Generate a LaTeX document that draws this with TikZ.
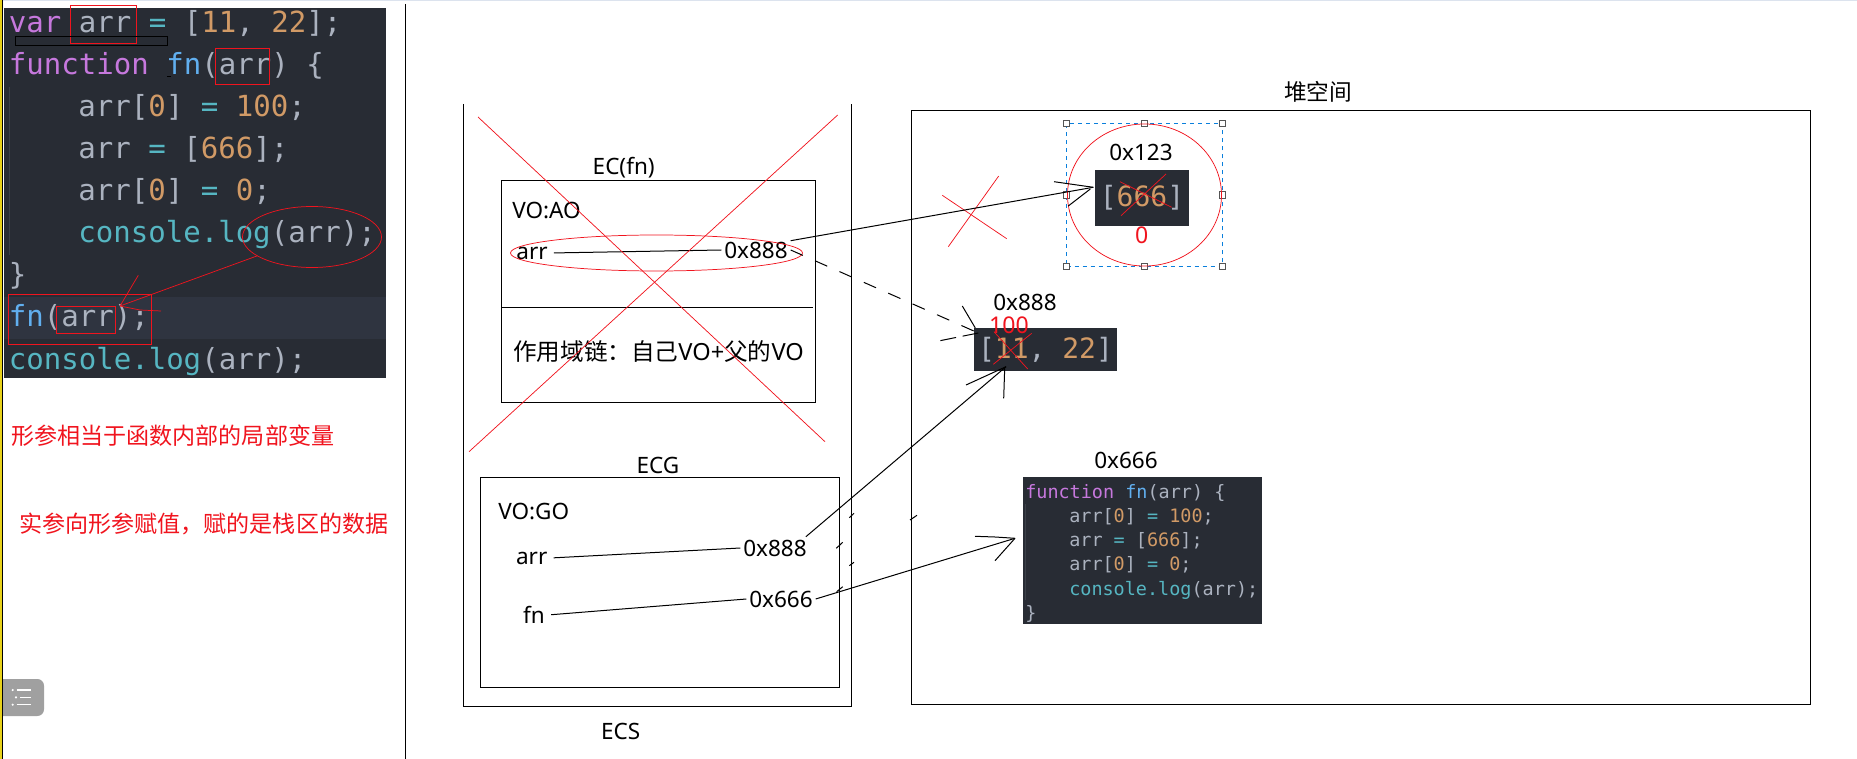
\documentclass[tikz,border=0pt]{standalone}
\usepackage{fontspec}
\usepackage{xcolor}
\setmainfont{Noto Sans}
\setmonofont{DejaVu Sans Mono}
\newfontfamily\cjk{Noto Sans CJK SC}
\usetikzlibrary{shapes.geometric}
\definecolor{CodeBg}{HTML}{282C34}
\definecolor{CodeLine}{HTML}{2F3440}
\definecolor{CodeGuide}{HTML}{3B4048}
\definecolor{CodeKw}{HTML}{C678DD}
\definecolor{CodeFn}{HTML}{61AFEF}
\definecolor{CodeCall}{HTML}{56B6C2}
\definecolor{CodeNum}{HTML}{D19A66}
\definecolor{CodeTxt}{HTML}{ABB2BF}
\definecolor{MarkRed}{HTML}{F0141E}
\definecolor{SelBlue}{HTML}{0A7FDC}
\definecolor{MenuGray}{HTML}{A0A0A0}
\definecolor{HandleGray}{HTML}{555555}
\definecolor{TopStrip}{HTML}{DCE3EE}
\definecolor{SideYellow}{HTML}{E8D21A}
\newcommand{\cKw}[1]{\textcolor{CodeKw}{#1}}
\newcommand{\cFn}[1]{\textcolor{CodeFn}{#1}}
\newcommand{\cCall}[1]{\textcolor{CodeCall}{#1}}
\newcommand{\cNum}[1]{\textcolor{CodeNum}{#1}}
\def\px{0.75pt}
\tikzset{
  frame/.style={draw=black, line width=1pt, inner sep=0pt, outer sep=0pt, anchor=north west},
  darkbox/.style={fill=CodeBg, inner sep=0pt, outer sep=0pt, anchor=north west},
  label/.style={font=\fontsize{16.9}{20}\selectfont, inner sep=2pt},
  redlabel/.style={font=\fontsize{17.3}{20}\selectfont, text=MarkRed, inner sep=0pt},
  bigcode/.style={font=\ttfamily\fontsize{21.8}{25}\selectfont, text=CodeTxt, inner sep=0pt, anchor=base west},
  heapcode/.style={font=\ttfamily\fontsize{21}{25}\selectfont, text=CodeTxt, inner sep=0pt, anchor=center},
  smallcode/.style={font=\ttfamily\fontsize{13.85}{16}\selectfont, text=CodeTxt, inner sep=0pt, anchor=base west},
  pen/.style={draw=black, line width=0.75pt},
  redpen/.style={draw=MarkRed, line width=0.55pt},
  redbox/.style={draw=MarkRed, line width=0.7pt, inner sep=0pt, outer sep=0pt, anchor=north west},
  redring/.style={draw=MarkRed, line width=0.55pt, ellipse, inner sep=0pt, outer sep=0pt},
  handle/.style={draw=HandleGray, fill=white, line width=0.7pt, minimum size=5pt, inner sep=0pt}
}
\begin{document}
\begin{tikzpicture}[x=0.75pt, y=-0.75pt]
  \useasboundingbox (0,0) rectangle (1857,759);
  % window edge
  \fill[TopStrip] (0,0) rectangle (1857,1.5);
  \fill[SideYellow] (0,0) rectangle (1.5,759);
  \fill[black] (1.5,0) rectangle (2.5,759);
  \draw[pen, line width=1pt] (405.5,4) -- (405.5,759);

  % code panel
  \node[darkbox, minimum width=382*\px, minimum height=370*\px] (codePanel) at (4,8) {};
  \fill[CodeLine] (4,297) rectangle (386,339);
  \draw[CodeGuide, line width=0.7pt] (9,87) -- (9,255);
  \node[bigcode] (l1) at (8.5,33) {\cKw{var} arr \cCall{=} [\cNum{11}, \cNum{22}];};
  \node[bigcode] (l2) at (8.5,75) {\cKw{function} \cFn{fn}(arr) \{};
  \node[bigcode] (l3) at (78,117) {arr[\cNum{0}] \cCall{=} \cNum{100};};
  \node[bigcode] (l4) at (78,159) {arr \cCall{=} [\cNum{666}];};
  \node[bigcode] (l5) at (78,201) {arr[\cNum{0}] \cCall{=} \cNum{0};};
  \node[bigcode] (l6) at (78,243) {\cCall{console.log}(arr);};
  \node[bigcode] (l7) at (8.5,285) {\}};
  \node[bigcode] (l8) at (8.5,327) {\cFn{fn}(arr);};
  \node[bigcode] (l9) at (8.5,369) {\cCall{console.log}(arr);};

  % marks on the code
  \node[redbox, minimum width=66*\px, minimum height=38*\px] (markVar) at (70.5,5.5) {};
  \node[frame, minimum width=152*\px, minimum height=9*\px] (markBar) at (15.5,36.5) {};
  \draw[pen] (167,77) -- (171,77);
  \node[redbox, minimum width=54*\px, minimum height=36*\px] (markParam) at (215.5,48.5) {};
  \node[redring, minimum width=139*\px, minimum height=61*\px] (markLog) at (312,237) {};
  \node[redbox, minimum width=143*\px, minimum height=50*\px] (markCall) at (8.5,294.5) {};
  \node[redbox, minimum width=59*\px, minimum height=27*\px] (markArg) at (56.5,306) {};
  \coordinate (callTip) at (120,306);
  \draw[redpen] (markLog.199) -- (callTip);
  \draw[redpen] (callTip) -- ++(18.3,-30.7);
  \draw[redpen] (callTip) -- ++(20,4) -- ++(21,1);

  % red notes
  \node[redlabel, anchor=west] (noteParam) at (11,436) {\cjk 形参相当于函数内部的局部变量};
  \node[redlabel, anchor=west] (noteArg) at (19,524) {\cjk 实参向形参赋值，赋的是栈区的数据};

  % menu button
  \fill[MenuGray] (3,679) [rounded corners=5pt] -- (44,679) -- (44,716) [sharp corners] -- (3,716) -- cycle;
  \draw[white, line width=1.1pt] (16.7,690) -- (31,690) (20,697.3) -- (31,697.3) (16.7,704.7) -- (31,704.7);
  \fill[white] (12.7,690) circle (1.2) (16,697.3) circle (1.2) (12.7,704.7) circle (1.2);

  % stack
  \draw[frame] (463.5,104) -- (463.5,706.5) -- (851.5,706.5) -- (851.5,104);
  \node[label] (ecsLabel) at (620.7,731) {ECS};
  \node[label] (ecFnLabel) at (623.7,168) {EC(fn)};
  \node[frame, minimum width=314*\px, minimum height=222*\px] (ecFn) at (501.5,180.5) {};
  \draw[pen, line width=1pt] (ecFn.west |- 0,307.5) -- (813,307.5);
  \node[label, anchor=west, inner sep=0pt] (aoLabel) at (512,210) {VO:AO};
  \node[label] (aoArr) at (532,253) {arr};
  \node[label] (aoAddr) at (756,250) {0x888};
  \node[label, anchor=west, inner sep=0pt, font=\fontsize{17.7}{20}\selectfont] (chainLabel) at (513,351.5) {{\cjk 作用域链：自己}VO+{\cjk 父的}VO};
  \node[redring, minimum width=292*\px, minimum height=36*\px] (aoRing) at (656.5,253) {};
  \draw[pen, shorten <=2.5pt] (aoArr.east) -- (aoAddr.west);
  \node[label] (ecgLabel) at (658,465) {ECG};
  \node[frame, minimum width=359*\px, minimum height=210*\px] (ecg) at (480.5,477.5) {};
  \node[label, anchor=west, inner sep=0pt] (goLabel) at (498,511) {VO:GO};
  \node[label] (goArr) at (531.7,558) {arr};
  \node[label] (goArrAddr) at (775,548) {0x888};
  \node[label] (goFn) at (534,615) {fn};
  \node[label] (goFnAddr) at (781,599) {0x666};
  \draw[pen, shorten <=2.5pt] (goArr.east) -- (goArrAddr.west);
  \draw[pen, shorten <=2.5pt] (goFn.east) -- (goFnAddr.west);
  \draw[redpen] (478,117) -- (825,441.7);
  \draw[redpen] (837.7,115) -- (469,451.7);

  % heap
  \node[frame, minimum width=899*\px, minimum height=594*\px] (heap) at (911.5,110.5) {};
  \node[font=\fontsize{17}{20}\selectfont, inner sep=0pt] (heapLabel) at (1318,92) {\cjk 堆空间};

  \node[draw=SelBlue, dashed, line width=0.75pt, minimum width=156*\px, minimum height=143*\px, inner sep=0pt, outer sep=0pt, anchor=north west] (selBox) at (1066.5,123.5) {};
  \foreach \a in {north west,north,north east,west,east,south west,south,south east}
    \node[handle] (hnd \a) at (selBox.\a) {};
  \node[redring, minimum width=154*\px, minimum height=142*\px] (objRing) at (selBox.center) {};
  \node[label] (objAddr) at (1141,152) {0x123};
  \node[darkbox, minimum width=94*\px, minimum height=56*\px] (objBox) at (1095,170) {};
  \node[heapcode] (objText) at (objBox.center) {[\cNum{666}]};
  \node[redlabel] (objZero) at (1141.7,235.5) {0};
  \draw[redpen] (1120,181.7) -- (1171.7,207.3);
  \draw[redpen] (1166,174) -- (1121,215.7);
  \draw[redpen] (942.3,195.3) -- (1006.7,238.7);
  \draw[redpen] (998.7,176) -- (948.3,246.7);

  \node[label] (arrAddr) at (1025,302.5) {0x888};
  \node[darkbox, minimum width=143*\px, minimum height=43*\px] (arrBox) at (974,328) {};
  \node[heapcode] (arrText) at (arrBox.center) {[\cNum{11}, \cNum{22}]};
  \node[redlabel] (arrHundred) at (1009,325) {100};
  \draw[redpen] (994,331.7) -- (1027.7,369);
  \draw[redpen] (1031.7,333.3) -- (993.3,364.3);

  \node[label] (fnAddr) at (1126,460) {0x666};
  \node[darkbox, minimum width=239*\px, minimum height=147*\px] (fnBox) at (1023,477) {};
  \draw[CodeGuide, line width=0.7pt] (1025,504) -- (1025,600);
  \node[smallcode] (f1) at (1025,498) {\cKw{function} \cFn{fn}(arr) \{};
  \node[smallcode] (f2) at (1069,522.3) {arr[\cNum{0}] \cCall{=} \cNum{100};};
  \node[smallcode] (f3) at (1069,546.5) {arr \cCall{=} [\cNum{666}];};
  \node[smallcode] (f4) at (1069,570.7) {arr[\cNum{0}] \cCall{=} \cNum{0};};
  \node[smallcode] (f5) at (1069,595) {\cCall{console.log}(arr);};
  \node[smallcode] (f6) at (1025,619) {\}};

  % pointers, with heads drawn by hand
  \coordinate (objTip) at (1093.3,187.3);
  \coordinate (arrTip) at (978.3,333);
  \coordinate (arrTipB) at (1006,366.7);
  \coordinate (fnTip) at (1015,538.3);
  \draw[pen] (aoAddr.15) -- (objTip);
  \draw[pen] (objTip) -- ++(-39.3,-5.6);
  \draw[pen] (objTip) ++(-3,1.7) -- (1068.3,206);
  \draw[pen, dash pattern=on 10pt off 10pt] (aoAddr.east) -- (arrTip);
  \draw[pen, dash pattern=on 12pt off 5pt] (arrTip) -- ++(-38.3,7.7);
  \draw[pen] (arrTip) ++(-3,-5) -- ++(-13,-22);
  \draw[pen] (goArrAddr.20) -- (arrTipB);
  \draw[pen] (arrTipB) -- ++(-40,18.3);
  \draw[pen] (arrTipB) ++(-1.3,1.3) -- (1003.7,398.3);
  \draw[pen] (goFnAddr.east) -- (fnTip);
  \draw[pen] (fnTip) -- (995,537) -- (975,536.3);
  \draw[pen] (fnTip) -- (995,560.7);

  % stray ticks
  \draw[pen] (849.3,517.7) -- (854,513.3);
  \draw[pen] (836.3,548.3) -- (842.7,542.3);
  \draw[pen] (849.3,565.7) -- (854,562.3);
  \draw[pen] (836.7,591.7) -- (842.7,586.7);
  \draw[pen] (910,520) -- (917,515.3);
\end{tikzpicture}
\end{document}
